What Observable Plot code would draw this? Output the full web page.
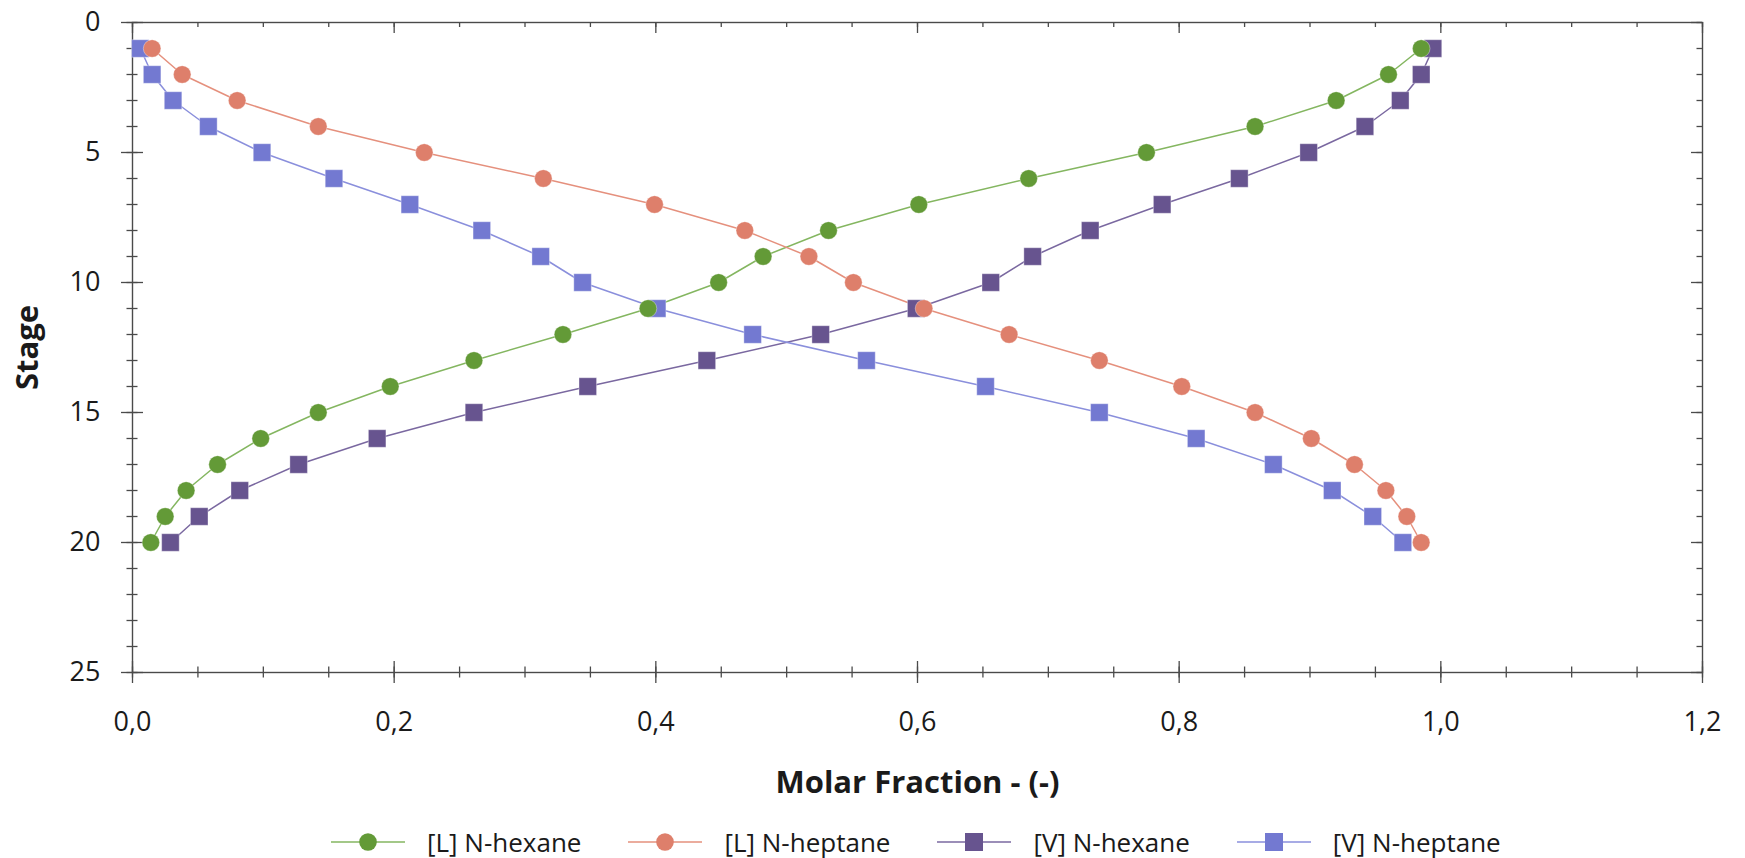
<!DOCTYPE html>
<html>
<head>
<meta charset="utf-8">
<script src="https://cdn.jsdelivr.net/npm/d3@7"></script>
<script src="https://cdn.jsdelivr.net/npm/@observablehq/plot@0.6"></script>
<style>
  html, body { margin: 0; padding: 0; background: #fff; overflow: hidden; }
  #chart svg { display: block; }
  #legend { display: flex; align-items: center; height: 84px; padding-left: 331px; gap: 47px;
            font-family: "Open Sans", sans-serif; font-size: 26px; color: #1a1a1a; }
  .item { display: flex; align-items: center; gap: 22px; white-space: nowrap; }
</style>
</head>
<body>
<div id="chart"></div>
<div id="legend"></div>
<script>
// ---- data ----
const stages = [1, 2, 3, 4, 5, 6, 7, 8, 9, 10, 11, 12, 13, 14, 15, 16, 17, 18, 19, 20];
const lHexane  = [0.985, 0.960, 0.920, 0.858, 0.775, 0.685, 0.601, 0.532, 0.482, 0.448,
                  0.394, 0.329, 0.261, 0.197, 0.142, 0.098, 0.065, 0.041, 0.025, 0.014];
const lHeptane = [0.015, 0.038, 0.080, 0.142, 0.223, 0.314, 0.399, 0.468, 0.517, 0.551,
                  0.605, 0.670, 0.739, 0.802, 0.858, 0.901, 0.934, 0.958, 0.974, 0.985];
const vHexane  = [0.994, 0.985, 0.969, 0.942, 0.899, 0.846, 0.787, 0.732, 0.688, 0.656,
                  0.599, 0.526, 0.439, 0.348, 0.261, 0.187, 0.127, 0.082, 0.051, 0.029];
const vHeptane = [0.006, 0.015, 0.031, 0.058, 0.099, 0.154, 0.212, 0.267, 0.312, 0.344,
                  0.401, 0.474, 0.561, 0.652, 0.739, 0.813, 0.872, 0.917, 0.948, 0.971];

const seriesNames  = ["[L] N-hexane", "[L] N-heptane", "[V] N-hexane", "[V] N-heptane"];
const seriesValues = [lHexane, lHeptane, vHexane, vHeptane];
const markerColors = ["#639a37", "#de7f6b", "#67548f", "#7379d1"];
const lineColors   = ["#84b660", "#e5907d", "#7a68a0", "#8a8fdc"];
const symbols      = ["circle", "circle", "square", "square"];

const xMajorTicks = [0, 0.2, 0.4, 0.6, 0.8, 1.0, 1.2];
const xTickLabels = ["0,0", "0,2", "0,4", "0,6", "0,8", "1,0", "1,2"];
const xMinorTicks = [0, 0.05, 0.1, 0.15, 0.2, 0.25, 0.3, 0.35, 0.4, 0.45, 0.5, 0.55, 0.6,
                     0.65, 0.7, 0.75, 0.8, 0.85, 0.9, 0.95, 1.0, 1.05, 1.1, 1.15, 1.2];
const yMajorTicks = [0, 5, 10, 15, 20, 25];
const yTickLabels = ["0", "5", "10", "15", "20", "25"];
const yMinorTicks = [0, 1, 2, 3, 4, 5, 6, 7, 8, 9, 10, 11, 12, 13, 14, 15, 16, 17, 18, 19,
                     20, 21, 22, 23, 24, 25];
const xTitle = "Molar Fraction - (-)";
const yTitle = "Stage";

// ---- layout ----
const W = 1745, H = 800;
const mL = 132, mR = 43, mT = 22, mB = 128;
const pw = W - mL - mR, ph = H - mT - mB;

// ---- build rows ----
const rowsBySeries = seriesNames.map((name, k) =>
  stages.map((s, i) => ({series: name, stage: s, frac: seriesValues[k][i]})));

const axisColor = "#4a4a4a";
const textColor = "#1a1a1a";
const font = "'Open Sans', sans-serif";
const sw = 1.3;

// draw V series first, L series on top
const drawOrder = [2, 3, 0, 1];
const seriesMarks = [];
for (const k of drawOrder) {
  seriesMarks.push(Plot.line(rowsBySeries[k], {x: "frac", y: "stage", stroke: lineColors[k], strokeWidth: 1.5}));
}
for (const k of drawOrder) {
  seriesMarks.push(Plot.dot(rowsBySeries[k], {
    x: "frac", y: "stage", symbol: symbols[k], fill: markerColors[k],
    r: symbols[k] === "circle" ? 8.8 : 9.9,
    stroke: "#ffffff", strokeOpacity: 0.45, strokeWidth: 0.8
  }));
}

const id = d => d;
const chart = Plot.plot({
  width: W,
  height: H,
  marginLeft: mL,
  marginRight: mR,
  marginTop: mT,
  marginBottom: mB,
  style: {fontFamily: font, color: textColor, background: "#fff", overflow: "visible"},
  x: {domain: [0, 1.2], axis: null},
  y: {domain: [0, 25], reverse: true, axis: null},
  marks: [
    // left axis ticks (crossing the axis)
    Plot.tickY(yMinorTicks, {y: id, insetRight: pw - 11, dx: -5.5, stroke: axisColor, strokeWidth: sw}),
    Plot.tickY(yMajorTicks, {y: id, insetRight: pw - 22, dx: -11, stroke: axisColor, strokeWidth: sw}),
    // right axis ticks (inward)
    Plot.tickY(yMinorTicks, {y: id, insetLeft: pw - 5.5, stroke: axisColor, strokeWidth: sw}),
    Plot.tickY(yMajorTicks, {y: id, insetLeft: pw - 11, stroke: axisColor, strokeWidth: sw}),
    // bottom axis ticks (crossing)
    Plot.tickX(xMinorTicks, {x: id, insetTop: ph - 11, dy: 5.5, stroke: axisColor, strokeWidth: sw}),
    Plot.tickX(xMajorTicks, {x: id, insetTop: ph - 22, dy: 11, stroke: axisColor, strokeWidth: sw}),
    // top axis ticks (inward)
    Plot.tickX(xMinorTicks, {x: id, insetBottom: ph - 5, stroke: axisColor, strokeWidth: sw}),
    Plot.tickX(xMajorTicks, {x: id, insetBottom: ph - 11, stroke: axisColor, strokeWidth: sw}),
    // tick labels
    Plot.text(yMajorTicks, {y: id, frameAnchor: "left", dx: -32, textAnchor: "end", lineAnchor: "middle",
      fontSize: 27, fill: textColor, text: (d, i) => yTickLabels[i]}),
    Plot.text(xMajorTicks, {x: id, frameAnchor: "bottom", dy: 50, textAnchor: "middle", lineAnchor: "middle",
      fontSize: 27, fill: textColor, text: (d, i) => xTickLabels[i]}),
    // frame
    Plot.frame({stroke: axisColor, strokeWidth: 1.4}),
    // axis titles
    Plot.text([xTitle], {frameAnchor: "bottom", dy: 111, textAnchor: "middle", lineAnchor: "middle",
      fontSize: 31, fontWeight: "bold", fill: textColor}),
    Plot.text([yTitle], {frameAnchor: "left", rotate: -90, dx: -104, textAnchor: "middle", lineAnchor: "middle",
      fontSize: 31, fontWeight: "bold", fill: textColor}),
    ...seriesMarks
  ]
});
document.getElementById("chart").appendChild(chart);

// ---- legend ----
const legend = document.getElementById("legend");
seriesNames.forEach((name, k) => {
  const item = document.createElement("div");
  item.className = "item";
  const marker = symbols[k] === "circle"
    ? `<circle cx="37" cy="11" r="8.8" fill="${markerColors[k]}"/>`
    : `<rect x="28" y="2" width="18" height="18" fill="${markerColors[k]}"/>`;
  item.innerHTML = `<svg width="74" height="22" viewBox="0 0 74 22">
      <line x1="0" x2="74" y1="11" y2="11" stroke="${lineColors[k]}" stroke-width="1.6"/>${marker}</svg>
      <span>${name}</span>`;
  legend.appendChild(item);
});
</script>
</body>
</html>
